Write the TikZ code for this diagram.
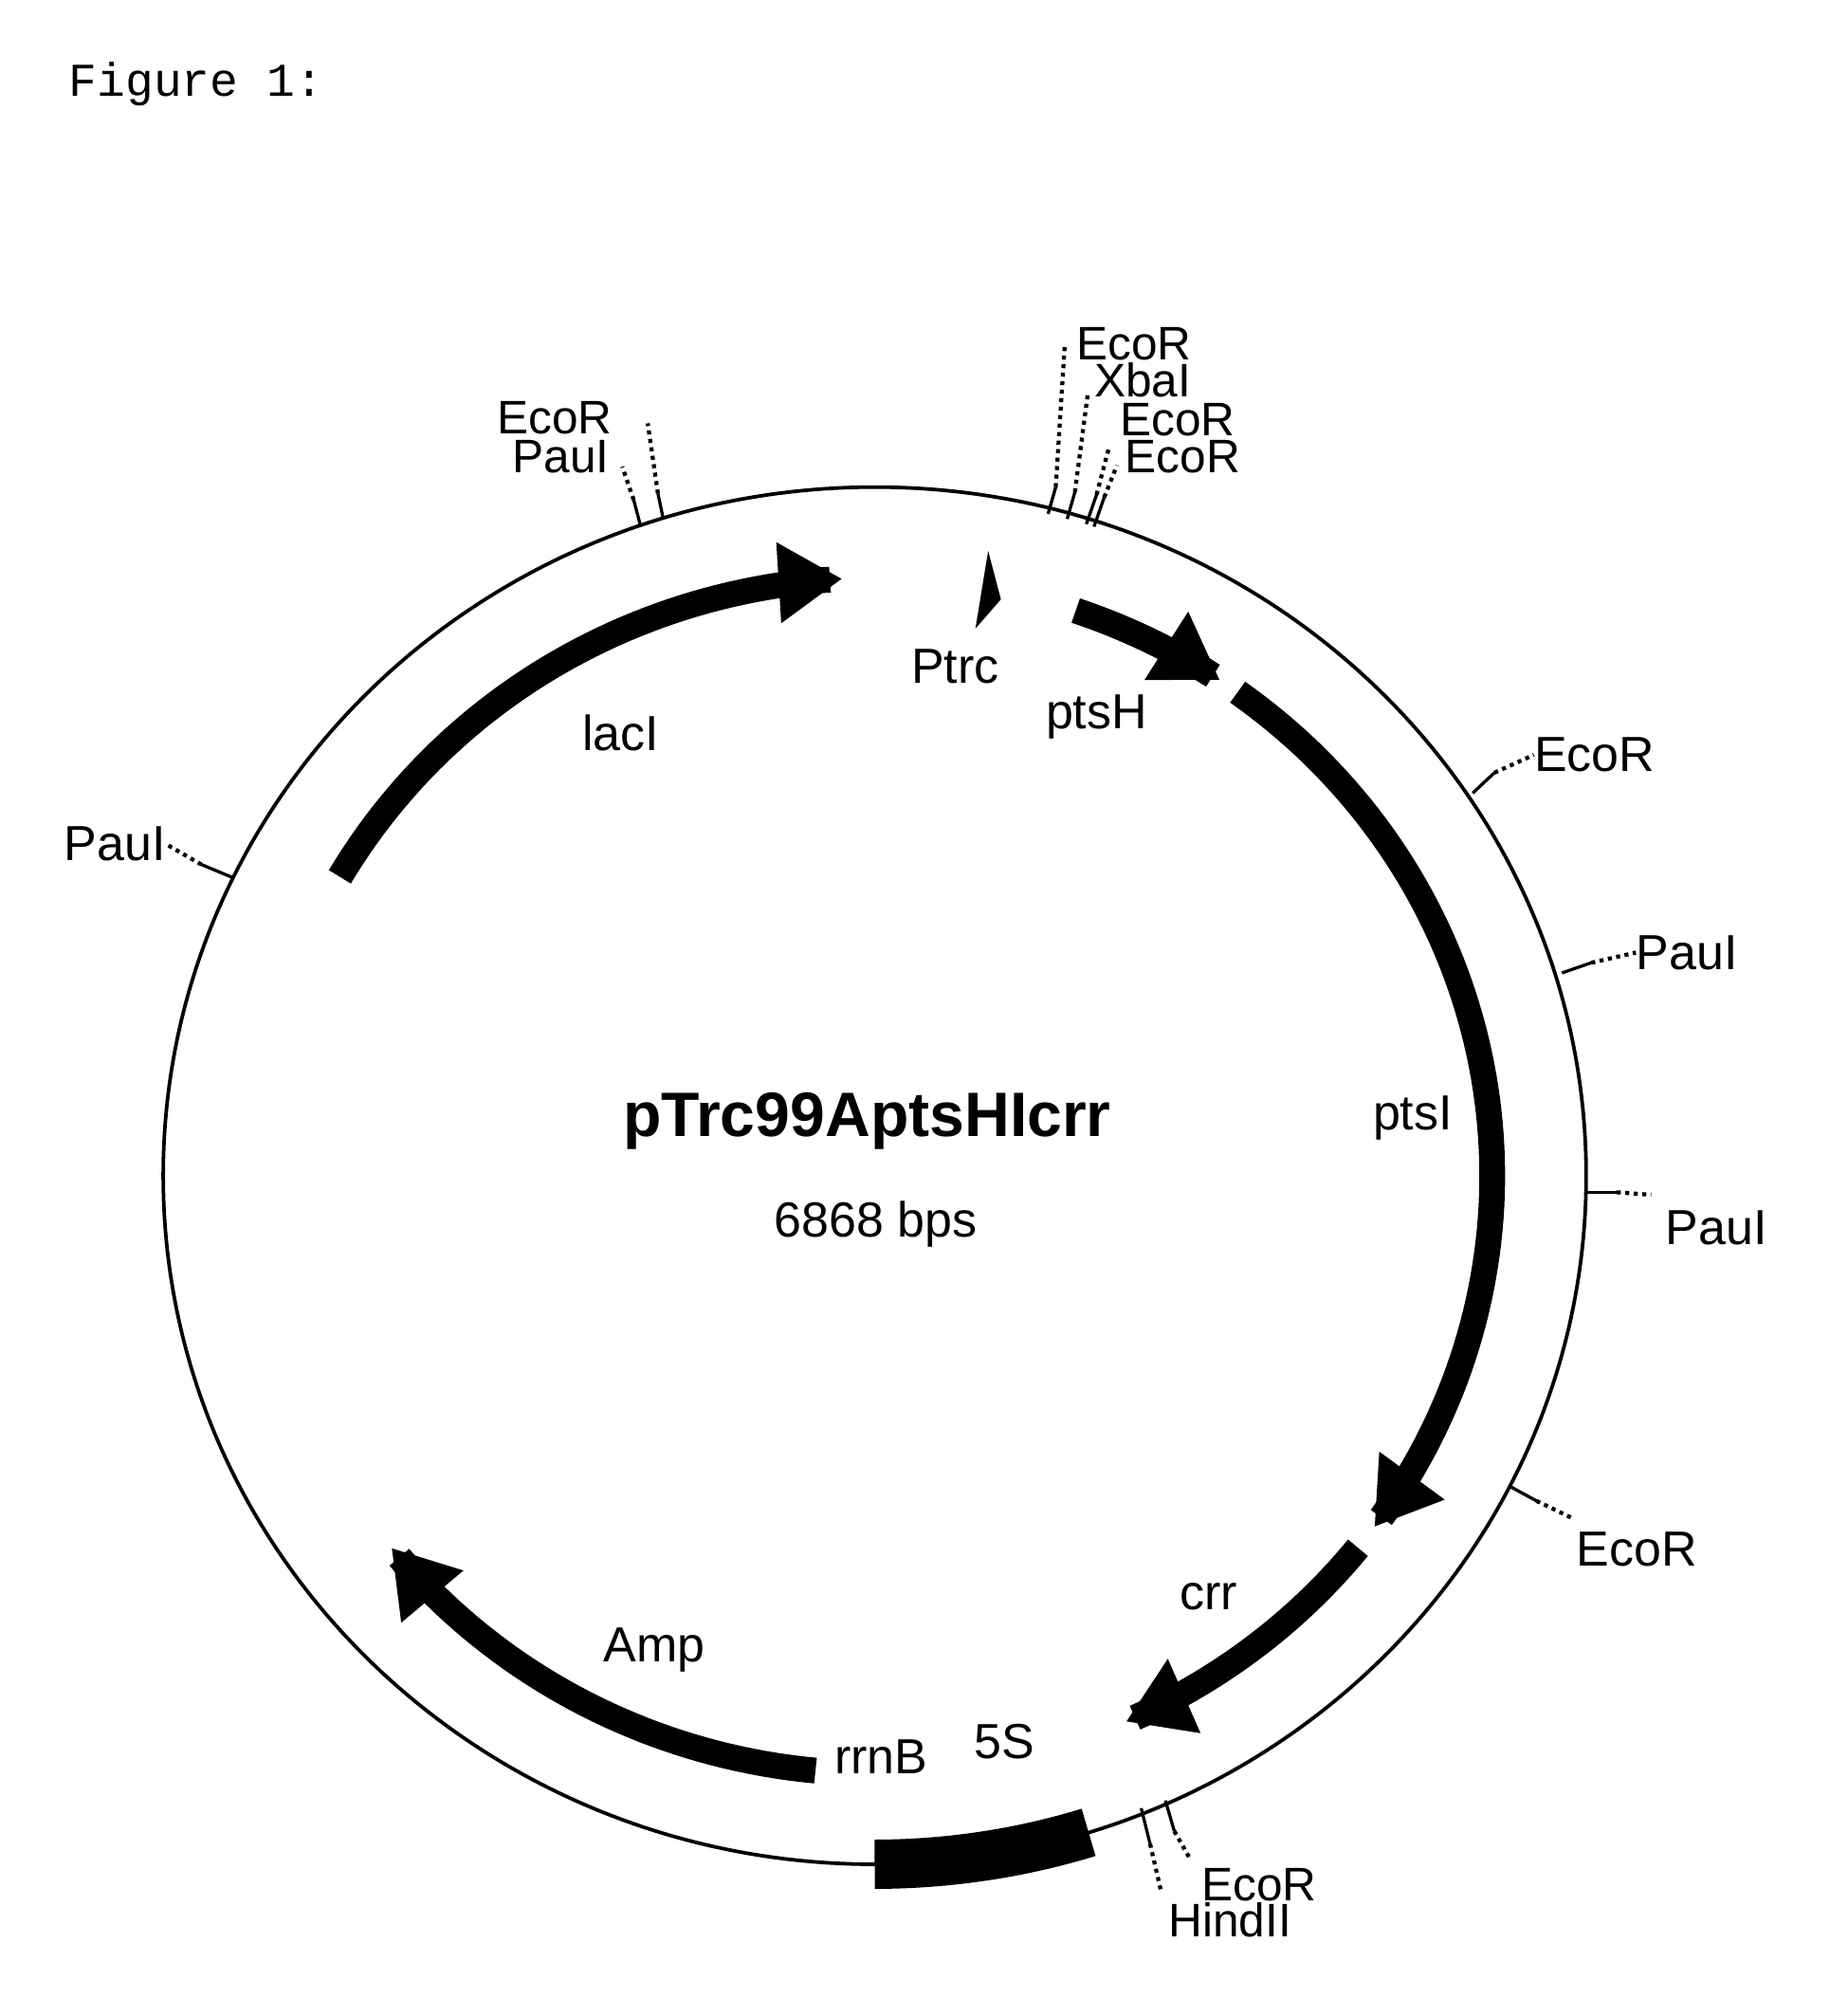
\documentclass[tikz,border=0pt]{standalone}
\usepackage{fontspec}
\setmainfont{Liberation Sans}
\newfontfamily\monof{Liberation Mono}
\usetikzlibrary{arrows.meta}
\begin{document}
\begin{tikzpicture}[x=0.02cm,y=-0.02cm,
  gene/.style={line width=11.5pt,-{Triangle[width=1.2cm,length=1.0cm]}},
  lbl/.style={font=\fontsize{22}{22}\selectfont,inner sep=0pt},
  slbl/.style={font=\fontsize{21}{21}\selectfont,inner sep=0pt},
  tick/.style={line width=1.4pt},
  dots/.style={line width=1.8pt,dotted}]
\useasboundingbox (0,0) rectangle (1449,1581);
\node[anchor=west,font=\monof\fontsize{21}{21}\selectfont] (fig) at (48,66) {Figure 1:};
\draw[line width=1.6pt] (686,922) ellipse [x radius=558, y radius=540];
% genes
\def\R{0.868}
\draw[gene] plot[domain=150:93,samples=50] ({686+558*\R*cos(\x)},{922-540*\R*sin(\x)});
\draw[gene] plot[domain=71:56,samples=20] ({686+558*\R*cos(\x)},{922-540*\R*sin(\x)});
\draw[gene] plot[domain=54:-36,samples=80] ({686+558*\R*cos(\x)},{922-540*\R*sin(\x)});
\draw[gene] plot[domain=-38.5:-66,samples=30] ({686+558*\R*cos(\x)},{922-540*\R*sin(\x)});
\draw[gene] plot[domain=-95.5:-141.5,samples=40] ({686+558*\R*cos(\x)},{922-540*\R*sin(\x)});
\draw[line width=22pt] plot[domain=-90:-72.5,samples=20] ({686+558*cos(\x)},{922-540*sin(\x)});
\fill (775,432) -- (785,470) -- (765,493) -- cycle;
% labels
\node[lbl] (lacI) at (487,575) {lacI};
\node[lbl] (Ptrc) at (749,523) {Ptrc};
\node[lbl] (ptsH) at (860,562) {ptsH};
\node[lbl] (ptsI) at (1108,877) {ptsI};
\node[lbl] (crr) at (948,1252) {crr};
\node[lbl] (Amp) at (513,1294) {Amp};
\node[lbl] (rrnB) at (691,1378) {rrnB};
\node[lbl] (fiveS) at (788,1366) {5S};
\node[font=\bfseries\fontsize{28}{28}\selectfont] (title) at (680,879) {pTrc99AptsHIcrr};
\node[lbl] (size) at (687,960) {6868 bps};
% restriction sites
\node[slbl] (e1) at (435,328) {EcoR};
\node[slbl] (p1) at (440,358) {PauI};
\draw[tick] (502,411) -- (497,392) coordinate (a1); \draw[dots] (a1) -- (488,366);
\draw[tick] (520,406) -- (516,387) coordinate (a2); \draw[dots] (a2) -- (508,332);
\node[slbl,anchor=west] (e2) at (844,270) {EcoR};
\node[slbl,anchor=west] (x2) at (858,298) {XbaI};
\node[slbl,anchor=west] (e3) at (878,329) {EcoR};
\node[slbl,anchor=west] (e4) at (882,358) {EcoR};
\draw[tick] (822,403) -- (828,382) coordinate (b1); \draw[dots] (b1) -- (835,272);
\draw[tick] (837,407) -- (843,386) coordinate (b2); \draw[dots] (b2) -- (853,310);
\draw[tick] (852,411) -- (860,388) coordinate (b3); \draw[dots] (b3) -- (870,350);
\draw[tick] (858,413) -- (866,390) coordinate (b4); \draw[dots] (b4) -- (876,365);
\node[lbl,anchor=west] (e5) at (1203,592) {EcoR};
\draw[tick] (1155,622) -- (1172,606) coordinate (c1); \draw[dots] (c1) -- (e5.west);
\node[lbl,anchor=west] (p5) at (1283,747) {PauI};
\draw[tick] (1225,763) -- (1248,755) coordinate (c2); \draw[dots] (c2) -- (p5.west);
\node[lbl,anchor=west] (p6) at (1306,963) {PauI};
\draw[tick] (1245,935) -- (1268,935) coordinate (c3); \draw[dots] (c3) -- (1295,937);
\node[lbl,anchor=west] (e7) at (1236,1215) {EcoR};
\draw[tick] (1183,1165) -- (1205,1177) coordinate (c4); \draw[dots] (c4) -- (1232,1190);
\node[lbl,anchor=west] (p8) at (50,662) {PauI};
\draw[tick] (182,688) -- (158,678) coordinate (c5); \draw[dots] (c5) -- (p8.east);
\node[slbl,anchor=west] (e9) at (942,1478) {EcoR};
\node[slbl,anchor=west] (h9) at (916,1506) {HindII};
\draw[tick] (895,1418) -- (902,1446) coordinate (d1); \draw[dots] (d1) -- (911,1485);
\draw[tick] (914,1412) -- (921,1436) coordinate (d2); \draw[dots] (d2) -- (934,1459);
\end{tikzpicture}
\end{document}
